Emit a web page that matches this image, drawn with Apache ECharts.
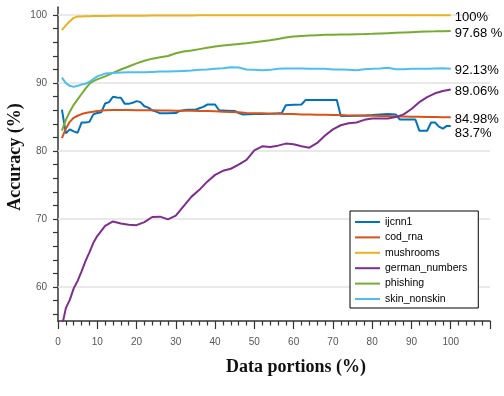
<!DOCTYPE html>
<html>
<head>
<meta charset="utf-8">
<script src="https://cdn.jsdelivr.net/npm/echarts@6/dist/echarts.min.js"></script>
<style>
  html, body { margin: 0; padding: 0; background: #fff; }
  #chart { width: 504px; height: 396px; }
</style>
</head>
<body>
<div id="chart"></div>
<script>
// data portions (%) shared by the smooth curves
var portions = [1, 2, 3, 4, 5, 6, 7, 8, 9, 10,
  12, 14, 16, 18, 20, 22, 24, 26, 28, 30,
  32, 34, 36, 38, 40, 42, 44, 46, 48, 50,
  52, 54, 56, 58, 60, 62, 64, 66, 68, 70,
  72, 74, 76, 78, 80, 82, 84, 86, 88, 90,
  92, 94, 96, 98, 100];

var codRna = [81.9, 83.3, 84.3, 84.9, 85.2, 85.45, 85.6, 85.7, 85.8, 85.9,
  86.0, 86.05, 86.05, 86.05, 86.0, 86.0, 86.0, 85.98, 85.97, 85.95,
  85.95, 85.93, 85.9, 85.9, 85.85, 85.8, 85.75, 85.7, 85.6, 85.55,
  85.55, 85.5, 85.5, 85.45, 85.45, 85.4, 85.4, 85.35, 85.35, 85.3,
  85.3, 85.25, 85.25, 85.2, 85.2, 85.15, 85.15, 85.1, 85.1, 85.05,
  85.05, 85.0, 85.0, 84.98, 84.98];

var mushrooms = [97.8, 98.5, 99.1, 99.6, 99.8, 99.82, 99.84, 99.85, 99.86, 99.87,
  99.88, 99.9, 99.91, 99.92, 99.93, 99.93, 99.94, 99.94, 99.95, 99.95,
  99.96, 99.96, 99.97, 99.97, 99.98, 99.98, 99.99, 99.99, 99.99, 100,
  100, 100, 100, 100, 100, 100, 100, 100, 100, 100,
  100, 100, 100, 100, 100, 100, 100, 100, 100, 100,
  100, 100, 100, 100, 100];

var germanNumbers = [54.2, 56.9, 58.1, 59.8, 60.9, 62.3, 63.8, 65.1, 66.5, 67.5,
  69.0, 69.65, 69.35, 69.15, 69.1, 69.55, 70.3, 70.35, 69.95, 70.5,
  71.9, 73.3, 74.3, 75.5, 76.5, 77.1, 77.4, 78.0, 78.7, 80.1,
  80.7, 80.6, 80.8, 81.1, 81.0, 80.7, 80.5, 81.2, 82.3, 83.2,
  83.8, 84.1, 84.2, 84.6, 84.8, 84.8, 84.8, 85.0, 85.4, 86.2,
  87.2, 87.95, 88.5, 88.85, 89.06];

var phishing = [83.0, 84.6, 85.8, 86.8, 87.6, 88.4, 89.2, 89.9, 90.3, 90.55,
  91.0, 91.5, 92.0, 92.45, 92.9, 93.3, 93.6, 93.8, 94.0, 94.4,
  94.65, 94.8, 95.0, 95.2, 95.4, 95.55, 95.65, 95.75, 95.85, 96.0,
  96.15, 96.3, 96.5, 96.7, 96.85, 96.95, 97.0, 97.05, 97.1, 97.12,
  97.15, 97.17, 97.2, 97.22, 97.25, 97.3, 97.35, 97.4, 97.45, 97.5,
  97.55, 97.6, 97.62, 97.65, 97.68];

var skinNonskin = [90.8, 90.0, 89.6, 89.45, 89.6, 89.8, 89.9, 90.2, 90.6, 91.0,
  91.4, 91.5, 91.55, 91.6, 91.6, 91.6, 91.65, 91.7, 91.7, 91.75,
  91.8, 91.85, 91.95, 92.0, 92.1, 92.2, 92.35, 92.3, 92.0, 91.95,
  91.9, 91.95, 92.1, 92.15, 92.15, 92.15, 92.1, 92.1, 92.1, 92.0,
  92.0, 91.95, 91.9, 92.05, 92.1, 92.15, 92.25, 92.05, 92.05, 92.1,
  92.1, 92.1, 92.15, 92.2, 92.13];

// ijcnn1 is step-like, so it keeps its own [portion, accuracy] points
var ijcnn1 = [[1, 86.1], [2, 82.6], [3, 83.2], [4, 82.9], [5, 82.7], [6, 84.2], [7, 84.2], [8, 84.3],
  [9, 85.4], [10, 85.6], [11, 85.7], [12, 87.0], [13, 87.2], [14, 88.0], [15, 87.9], [16, 87.85],
  [17, 86.95], [18, 86.95], [19, 87.1], [20, 87.35], [21, 87.2], [22, 86.6], [23, 86.4], [24, 86.0],
  [25, 85.8], [26, 85.55], [28, 85.55], [30, 85.6], [31, 85.9], [32, 86.0], [33, 86.1], [35, 86.1],
  [36, 86.3], [37, 86.5], [38, 86.85], [40, 86.85], [41, 86.0], [43, 85.95], [45, 85.9], [46, 85.6],
  [47, 85.4], [50, 85.45], [52, 85.45], [54, 85.5], [56, 85.55], [57, 85.6], [58, 86.75], [60, 86.8],
  [62, 86.85], [63, 87.5], [65, 87.5], [68, 87.5], [70, 87.5], [71, 87.5], [72, 85.15], [74, 85.15],
  [76, 85.2], [78, 85.25], [80, 85.3], [82, 85.4], [84, 85.45], [86, 85.4], [87, 84.65], [89, 84.65],
  [91, 84.65], [92, 83.0], [94, 83.0], [95, 84.2], [96, 84.2], [97, 83.6], [98, 83.3], [99, 83.7],
  [100, 83.7]];

var names = ['ijcnn1', 'cod_rna', 'mushrooms', 'german_numbers', 'phishing', 'skin_nonskin'];
var endLabels = ['83.7%', '84.98%', '100%', '89.06%', '97.68 %', '92.13%'];
var colors = ['#0072BD', '#D95319', '#EDB120', '#7E2F8E', '#77AC30', '#4DBEEE'];

var xLabelValues = [0, 10, 20, 30, 40, 50, 60, 70, 80, 90, 100];
var yLabelValues = [60, 70, 80, 90, 100];
var yTickValues = [56, 58, 60, 62, 64, 66, 68, 70, 72, 74, 76, 78, 80, 82, 84, 86, 88, 90, 92, 94, 96, 98, 100];

function zip(xs, ys) {
	return xs.map(function(x, i) { return [x, ys[i]]; });
}

var values = [ijcnn1, zip(portions, codRna), zip(portions, mushrooms), zip(portions, germanNumbers),
  zip(portions, phishing), zip(portions, skinNonskin)];

var series = names.map(function(n, i) {
	var s = {
		name: n,
		type: 'line',
		data: values[i],
		symbol: 'none',
		showSymbol: false,
		z: 10,
		lineStyle: { color: colors[i], width: 2 },
		itemStyle: { color: colors[i] },
		endLabel: {
			show: true,
			formatter: endLabels[i],
			distance: 4,
			offset: [0, i == 0 ? 7 : 2],
			color: '#000',
			fontFamily: 'Liberation Sans',
			fontSize: 13
		}
	};
	if(i == 0) s.markLine = {
		silent: true,
		symbol: ['none', 'none'],
		label: { show: false },
		lineStyle: { color: '#e2e2e2', width: 1.5, type: 'solid' },
		data: yLabelValues.map(function(v) { return { yAxis: v }; })
	};
	return s;
});

var chart = echarts.init(document.getElementById('chart'));
chart.setOption({
	animation: false,
	grid: { left: 58, right: 14, top: 7, bottom: 75, outerBoundsMode: 'none', containLabel: false },
	legend: {
		data: names,
		z: 20,
		orient: 'vertical',
		left: 350,
		top: 211,
		icon: 'rect',
		itemWidth: 25,
		itemHeight: 2,
		itemGap: 3.4,
		padding: [5, 11, 3, 5],
		backgroundColor: '#fff',
		borderColor: '#000',
		borderWidth: 1,
		borderRadius: 0,
		textStyle: { fontFamily: 'Liberation Sans', fontSize: 10.5, lineHeight: 12, color: '#000' }
	},
	xAxis: {
		type: 'value',
		min: 0,
		max: 110,
		interval: 10,
		name: 'Data portions (%)',
		nameLocation: 'middle',
		nameGap: 37,
		nameMoveOverlap: false,
		nameTextStyle: { fontFamily: 'Liberation Serif', fontWeight: 'bold', fontSize: 18, color: '#111', padding: [0, 0, 0, 44] },
		axisLine: { onZero: false, lineStyle: { color: '#333', width: 1.5 } },
		axisTick: { length: 8, lineStyle: { color: '#333', width: 1.2 } },
		minorTick: { show: true, splitNumber: 5, length: 4.5, lineStyle: { color: '#333', width: 1.2 } },
		axisLabel: { customValues: xLabelValues, margin: 16, color: '#555', fontFamily: 'Liberation Sans', fontSize: 10 },
		splitLine: { show: false }
	},
	yAxis: {
		type: 'value',
		min: 55,
		max: 101.2,
		name: 'Accuracy (%)',
		nameLocation: 'middle',
		nameGap: 34,
		nameMoveOverlap: false,
		nameTextStyle: { fontFamily: 'Liberation Serif', fontWeight: 'bold', fontSize: 18, color: '#111', padding: [0, 0, 0, 14] },
		axisLine: { show: true, onZero: false, lineStyle: { color: '#333', width: 1.5 } },
		axisTick: { show: true, customValues: yTickValues, length: 5, lineStyle: { color: '#333', width: 1.2 } },
		axisLabel: { customValues: yLabelValues, margin: 11, color: '#555', fontFamily: 'Liberation Sans', fontSize: 10 },
		splitLine: { show: false }
	},
	series: series
});
</script>
</body>
</html>
